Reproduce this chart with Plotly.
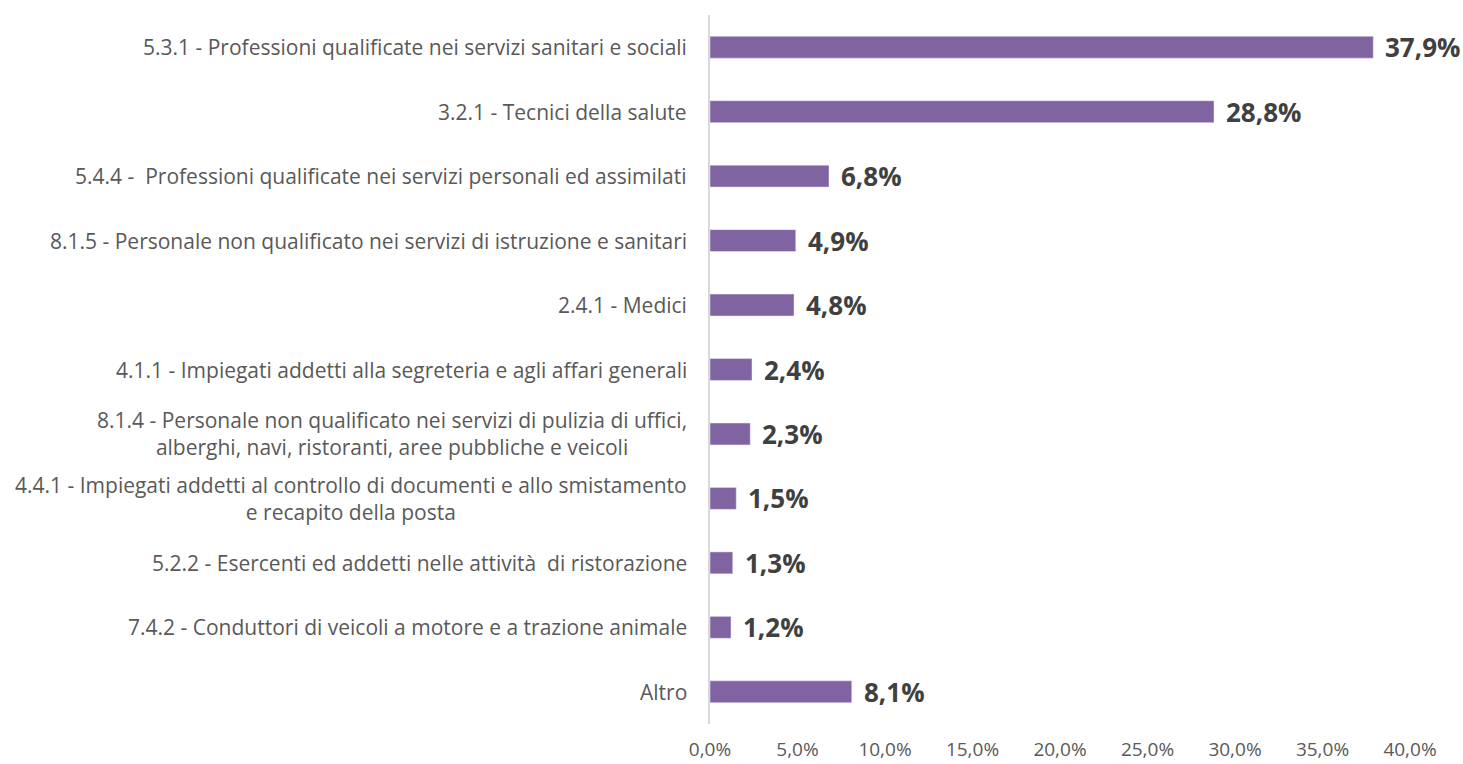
import plotly.graph_objects as go

categories = [
    "5.3.1 - Professioni qualificate nei servizi sanitari e sociali",
    "3.2.1 - Tecnici della salute",
    "5.4.4 -  Professioni qualificate nei servizi personali ed assimilati",
    "8.1.5 - Personale non qualificato nei servizi di istruzione e sanitari",
    "2.4.1 - Medici",
    "4.1.1 - Impiegati addetti alla segreteria e agli affari generali",
    "8.1.4 - Personale non qualificato nei servizi di pulizia di uffici,<br>alberghi, navi, ristoranti, aree pubbliche e veicoli",
    "4.4.1 - Impiegati addetti al controllo di documenti e allo smistamento<br>e recapito della posta",
    "5.2.2 - Esercenti ed addetti nelle attività  di ristorazione",
    "7.4.2 - Conduttori di veicoli a motore e a trazione animale",
    "Altro",
]
values = [37.9, 28.8, 6.8, 4.9, 4.8, 2.4, 2.3, 1.5, 1.3, 1.2, 8.1]
tick_vals = [0, 5, 10, 15, 20, 25, 30, 35, 40]
tick_text = ["0,0%", "5,0%", "10,0%", "15,0%", "20,0%", "25,0%", "30,0%", "35,0%", "40,0%"]

FONT = "Open Sans, sans-serif"

fig = go.Figure(go.Bar(
    x=values, y=categories, orientation="h",
    marker=dict(color="#8064A2"), width=0.34,
    hoverinfo="x+y",
))

ann = []
for c, v in zip(categories, values):
    ann.append(dict(x=v, y=c, xref="x", yref="y", text="<b>" + f"{v:.1f}".replace(".", ",") + "%</b>",
                    showarrow=False, xanchor="left", yanchor="middle", xshift=10,
                    font=dict(family=FONT, size=26, color="#404040")))
    ann.append(dict(x=0, y=c, xref="paper", yref="y", text=c, showarrow=False,
                    xanchor="right", yanchor="middle", align="center", xshift=-21,
                    font=dict(family=FONT, size=21, color="#595959")))

fig.update_layout(
    width=1463, height=764,
    margin=dict(l=710, r=53, t=15, b=40, autoexpand=False),
    paper_bgcolor="white", plot_bgcolor="white",
    showlegend=False,
    annotations=ann,
    xaxis=dict(range=[0, 40], tickvals=tick_vals, ticktext=tick_text, showgrid=False,
               zeroline=False, showline=False, ticks="", ticklabelstandoff=12,
               automargin=False,
               tickfont=dict(family=FONT, size=19, color="#595959")),
    yaxis=dict(autorange="reversed", showticklabels=False, showgrid=False, zeroline=False,
               automargin=False,
               showline=True, linecolor="#D9D9D9", linewidth=2, ticks=""),
)

fig.write_html("out.html", config={"displayModeBar": False},
               post_script="document.body.style.margin='0';document.body.style.overflow='hidden';")
